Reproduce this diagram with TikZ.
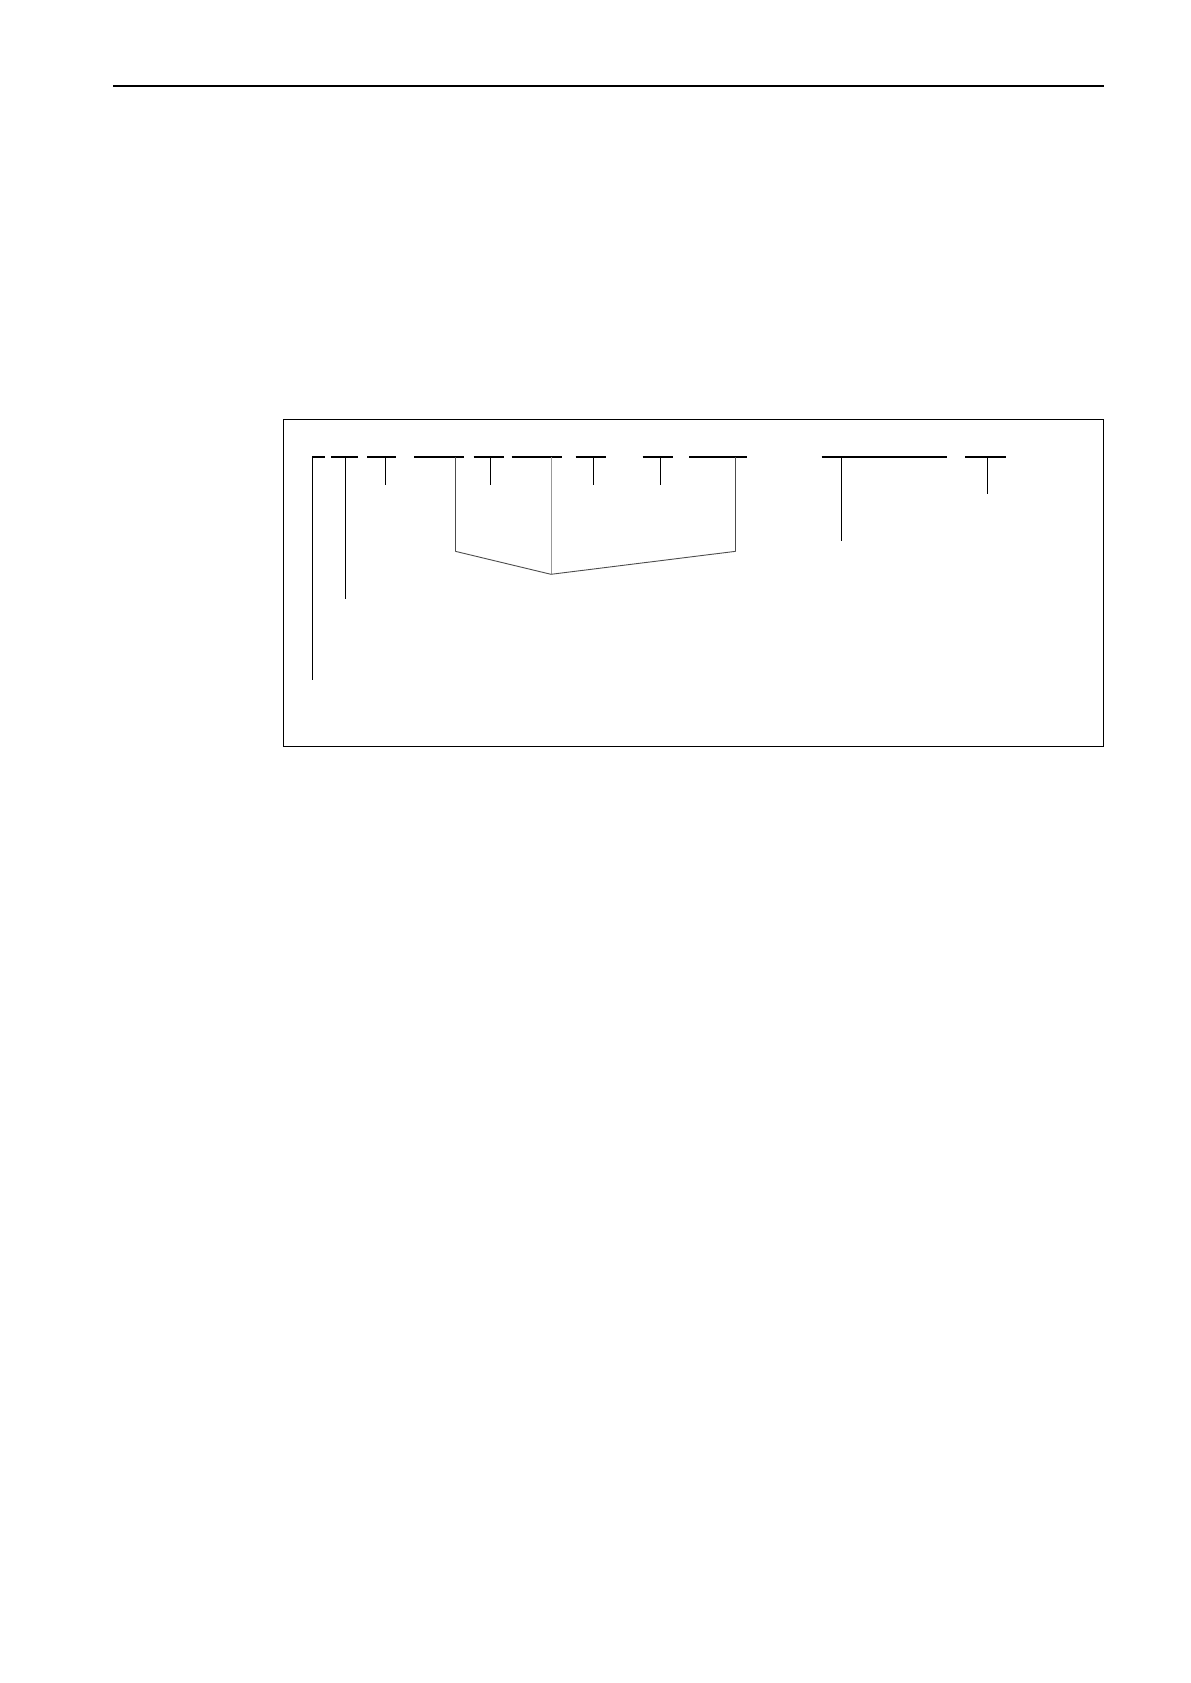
\documentclass[tikz,border=0pt]{standalone}
\usepackage{tikz}
\usetikzlibrary{positioning}

\begin{document}
\begin{tikzpicture}[x=0.5pt,y=-0.5pt,
    frame/.style = {line width=0.6pt},
    bar/.style   = {line width=1.1pt},
    lead/.style  = {line width=0.5pt},
    brace/.style = {line width=0.45pt, black!70},
    stem/.style  = {line width=0.45pt, black!40}
  ]
  \useasboundingbox (0,0) rectangle (1190,1683);

  % header rule
  \draw[frame] (113,86) -- (1104,86);
  % frame
  \draw[frame] (283.3,419.3) rectangle (1103.3,746.3);

  % bars with their leads
  \foreach \xa/\xb/\xl/\ye/\st [count=\i] in {
      312.3/325/312.3/680/lead,
      331/358.3/345.7/598.7/lead,
      367/396.3/385.3/485.3/lead,
      414.3/464.3/455.3/551.3/brace,
      473.7/503.7/490/485.3/lead,
      511.7/562.3/551/574.3/stem,
      575.7/605.7/593.3/485.3/lead,
      642.7/672.7/660.3/485.3/lead,
      689/747.3/735.7/551.3/brace,
      821.7/947.3/841.3/540.7/lead,
      965/1006.3/987.3/494.3/lead}
  {
    \draw[bar] (\xa,457) -- (\xb,457);
    \draw[\st] (\xl,457) coordinate (top\i) -- (\xl,\ye) coordinate (end\i);
  }

  % joining bracket
  \draw[brace] (end4) -- (end6) -- (end9);

\end{tikzpicture}
\end{document}
